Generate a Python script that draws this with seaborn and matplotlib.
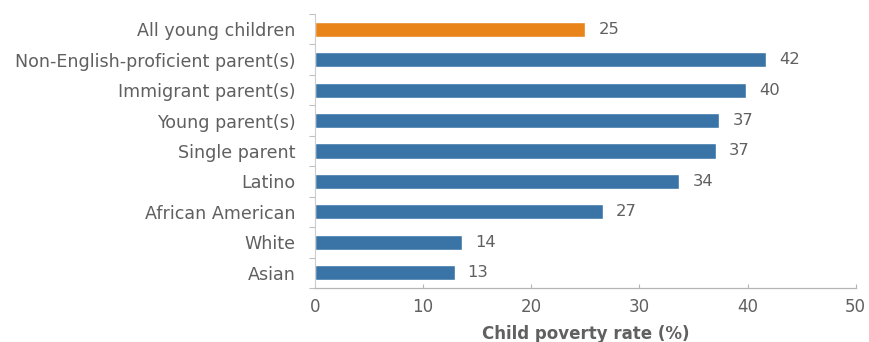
import matplotlib
matplotlib.use("Agg")
import matplotlib.pyplot as plt
import seaborn as sns
import pandas as pd

categories = ["All young children", "Non-English-proficient parent(s)", "Immigrant parent(s)",
              "Young parent(s)", "Single parent", "Latino", "African American", "White", "Asian"]
values = [25.0, 41.7, 39.9, 37.4, 37.1, 33.7, 26.6, 13.6, 12.9]
labels = ["25", "42", "40", "37", "37", "34", "27", "14", "13"]
groups = ["all", "sub", "sub", "sub", "sub", "sub", "sub", "sub", "sub"]
xticks = [0, 10, 20, 30, 40, 50]

df = pd.DataFrame({"category": categories, "value": values, "group": groups})

sns.set_theme(style="white")
plt.rcParams["font.family"] = ["DejaVu Sans"]
text_color = "#606060"

fig = plt.figure(figsize=(8.69, 3.42), dpi=100)
ax = fig.add_axes([0.3625, 0.158, 0.6222, 0.801])

sns.barplot(data=df, x="value", y="category", hue="group", orient="h",
            palette={"all": "#e8841a", "sub": "#3a74a6"}, width=0.5,
            dodge=False, legend=False, ax=ax, saturation=1)

for i, (v, lab) in enumerate(zip(values, labels)):
    ax.text(v + 1.2, i, lab, va="center", ha="left", fontsize=11.8, color=text_color)

ax.set_xlim(0, 50)
ax.set_ylim(8.5, -0.5)
ax.set_xticks(xticks)
ax.set_xticklabels([str(t) for t in xticks], fontsize=12, color=text_color)
ax.set_yticks(range(len(categories)))
ax.set_yticklabels(categories, fontsize=12.6, color=text_color)
ax.tick_params(axis="y", length=0, pad=14)
ax.set_yticks([i + 0.5 for i in range(-1, len(categories))], minor=True)
ax.tick_params(axis="y", which="minor", length=4, color="#c0c0c0", width=0.8, left=True)
ax.tick_params(axis="x", length=3, direction="in", color="#b5b5b5", width=0.8, pad=7, bottom=True)

ax.set_xlabel("Child poverty rate (%)", fontsize=12, fontweight="bold", color=text_color, labelpad=7)
ax.set_ylabel("")

for side in ["top", "right"]:
    ax.spines[side].set_visible(False)
ax.spines["left"].set_color("#cccccc")
ax.spines["left"].set_linewidth(0.8)
ax.spines["bottom"].set_color("#b5b5b5")
ax.spines["bottom"].set_linewidth(0.9)

fig.savefig("out.png", dpi=100)
